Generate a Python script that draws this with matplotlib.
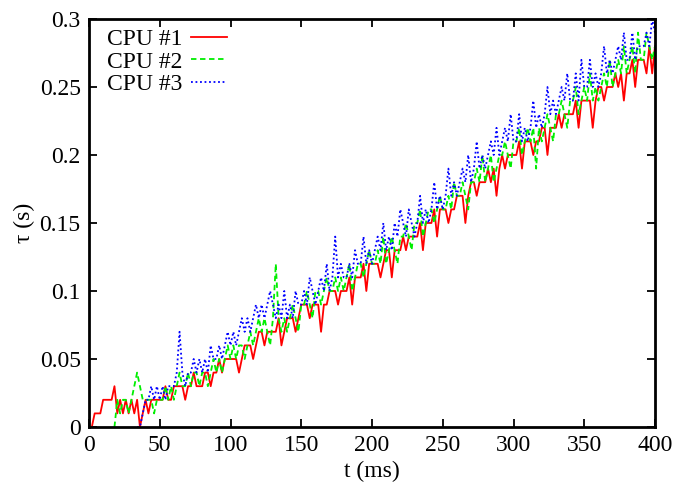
import numpy as np
import matplotlib
matplotlib.use("Agg")
import matplotlib.pyplot as plt

plt.rcParams['font.family'] = ['Liberation Serif', 'DejaVu Serif']

# tau values in hundredths of a second, sampled every 2 ms
red_cs = [0, 1, 1, 1, 2,  2, 2, 2, 3, 1,  2, 1, 2, 1, 2,  1, 2, 0, 1, 2,
          1, 2, 2, 2, 2,  2, 3, 2, 2, 3,  3, 3, 3, 2, 3,  3, 4, 3, 3, 3,
          4, 4, 3, 4, 4,  5, 4, 5, 5, 5,  5, 5, 4, 5, 6,  6, 6, 5, 6, 7,
          7, 6, 7, 7, 7,  7, 8, 6, 7, 8,  8, 8, 7, 8, 9,  9, 9, 8, 9, 9,
          9, 7, 9, 9, 10,  10, 10, 9, 10, 10,  10, 11, 9, 11, 11,  11, 12, 10, 12, 12,
          12, 12, 11, 12, 13,  13, 11, 13, 13, 13,  14, 13, 14, 14, 14,  14, 15, 13, 15, 15,
          15, 16, 14, 16, 16,  16, 15, 16, 16, 17,  17, 17, 15, 17, 18,  18, 17, 18, 18, 18,
          19, 18, 19, 17, 19,  20, 19, 20, 20, 20,  20, 21, 19, 21, 21,  21, 20, 21, 21, 22,
          22, 20, 22, 22, 22,  23, 22, 23, 23, 23,  23, 24, 22, 24, 24,  24, 24, 22, 24, 25,
          25, 24, 25, 25, 25,  26, 25, 26, 24, 26,  26, 27, 25, 27, 27,  27, 26, 28, 26, 28]
red_start = 2

green_cs = [0, 2,
            1, 2, 2, 1, 2,  3, 4, 3, 2, 2,  2, 2, 1, 2, 2,  2, 3, 2, 3, 2,
            3, 4, 3, 3, 4,  3, 4, 4, 3, 4,  4, 3, 4, 5, 4,  5, 4, 5, 6, 5,
            6, 5, 6, 6, 5,  6, 7, 6, 7, 8,  7, 8, 7, 6, 8,  12, 8, 7, 8, 7,
            8, 9, 8, 7, 9,  9, 10, 9, 8, 10,  10, 9, 10, 11, 10,  10, 11, 10, 11, 10,
            11, 12, 10, 11, 12,  12, 11, 12, 13, 12,  12, 13, 12, 14, 12,  13, 14, 13, 12, 14,
            14, 15, 14, 13, 15,  15, 16, 14, 15, 16,  16, 15, 16, 17, 16,  16, 17, 16, 18, 17,
            17, 18, 17, 16, 18,  18, 19, 18, 20, 18,  19, 20, 18, 19, 20,  20, 21, 20, 19, 21,
            21, 22, 20, 21, 22,  21, 22, 19, 22, 21,  22, 23, 22, 21, 23,  23, 24, 23, 22, 24,
            24, 25, 23, 24, 25,  24, 26, 24, 25, 24,  25, 26, 25, 27, 25,  26, 27, 26, 28, 26,
            27, 28, 26, 29, 27,  27, 29, 28, 27, 28]
green_start = 18

blue_cs = [0, 0, 1, 2,
           2, 3, 2, 3, 2,  3, 2, 3, 3, 3,  4, 7, 4, 3, 4,  4, 5, 4, 5, 4,
           5, 4, 6, 5, 5,  6, 5, 6, 7, 6,  7, 6, 7, 8, 7,  8, 7, 8, 9, 8,
           9, 8, 9, 10, 9,  8, 9, 8, 10, 8,  9, 8, 10, 9, 9,  10, 9, 11, 10, 9,
           10, 11, 10, 12, 10,  11, 14, 11, 12, 11,  11, 12, 11, 13, 12,  12, 14, 12, 13, 12,
           13, 14, 13, 15, 13,  14, 13, 15, 14, 16,  15, 14, 16, 15, 14,  15, 17, 15, 16, 15,
           16, 18, 16, 17, 16,  17, 19, 17, 18, 17,  18, 19, 18, 20, 18,  19, 21, 19, 20, 19,
           20, 21, 20, 22, 20,  21, 22, 21, 23, 21,  21, 23, 21, 22, 21,  22, 24, 22, 23, 22,
           23, 25, 23, 24, 23,  24, 25, 24, 26, 24,  24, 26, 24, 27, 25,  25, 27, 25, 26, 25,
           26, 28, 26, 27, 26,  27, 28, 27, 29, 27,  27, 29, 27, 28, 28,  28, 29, 28, 30, 29]
blue_start = 34

series_labels = ['CPU #1', 'CPU #2', 'CPU #3']
xticks = [0, 50, 100, 150, 200, 250, 300, 350, 400]
yticks = [0, 0.05, 0.1, 0.15, 0.2, 0.25, 0.3]
ytick_labels = ['0', '0.05', '0.1', '0.15', '0.2', '0.25', '0.3']

fig = plt.figure(figsize=(6.78, 4.86), dpi=100)
ax = fig.add_axes([89 / 678, 59 / 486, 566 / 678, 408 / 486])

series = [(red_start, red_cs), (green_start, green_cs), (blue_start, blue_cs)]
styles = [dict(color='#ff0000', linestyle='-'),
          dict(color='#00ee00', dashes=[3, 2]),
          dict(color='#0000ff', dashes=[1, 1.5])]
for (start, vals), st, lab in zip(series, styles, series_labels):
    t = np.arange(start, start + 2 * len(vals), 2)
    ax.plot(t, np.array(vals) / 100.0, lw=1.3, label=lab, **st)

ax.set_xlim(0, 400)
ax.set_ylim(0, 0.3)
ax.set_xticks(xticks)
ax.set_yticks(yticks)
ax.set_yticklabels(ytick_labels)
ax.tick_params(direction='in', length=6, width=1.3, top=True, right=True,
               labelsize=17, pad=6)
for s in ax.spines.values():
    s.set_linewidth(2.0)

ax.set_xlabel('t (ms)', fontsize=17, labelpad=3)
ax.set_ylabel('τ (s)', fontsize=17, labelpad=3)

ax.legend(loc='upper left', frameon=False, markerfirst=False, fontsize=17,
          handlelength=1.55, handletextpad=0.35, labelspacing=0.05,
          borderaxespad=0, bbox_to_anchor=(0.015, 1.0))

fig.savefig('out.png', dpi=100)
